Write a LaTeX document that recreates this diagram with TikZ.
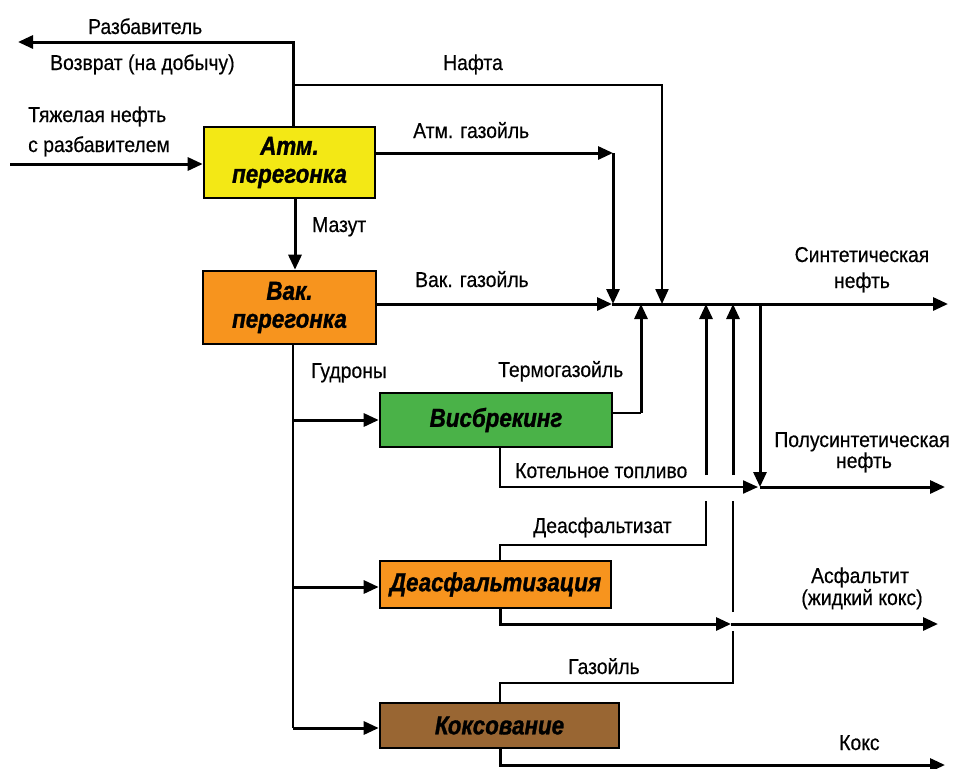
\documentclass[tikz,border=0pt]{standalone}
\usepackage{fontspec}
\setmainfont{Liberation Sans}[FakeStretch=0.9,FakeBold=0.4]
\newfontfamily\boxfont{Liberation Sans Bold Italic}[FakeStretch=0.86,FakeBold=1.2]
\usetikzlibrary{arrows.meta}
\definecolor{cyellow}{RGB}{243,232,21}
\definecolor{corange}{RGB}{247,148,30}
\definecolor{cgreen}{RGB}{74,178,72}
\definecolor{cbrown}{RGB}{153,102,51}
\begin{document}
\begin{tikzpicture}[x=1pt,y=-1pt,
  lbl/.style={inner sep=0pt,anchor=base west,font=\fontsize{21.5}{25}\selectfont},
  proc/.style={draw,line width=2.6pt,inner sep=0pt,align=center,
    font=\boxfont\fontsize{26}{28}\selectfont},
  flow/.style={line width=3pt,-{Triangle[length=15pt,width=13pt]}},
  thinflow/.style={line width=2.2pt,-{Triangle[length=15pt,width=13pt]}},
  thinl/.style={line width=2.2pt}]
\useasboundingbox (0,0) rectangle (954,769);
% process boxes
\node[proc,fill=cyellow,minimum width=171pt,minimum height=71pt] (atm) at (289.5,162.5) {Атм.\\перегонка};
\node[proc,fill=corange,minimum width=173pt,minimum height=73pt] (vak) at (289.5,307.5) {Вак.\\перегонка};
\node[proc,fill=cgreen,minimum width=232pt,minimum height=54pt] (vis) at (496,420) {Висбрекинг};
\node[proc,fill=corange,minimum width=231pt,minimum height=47pt] (dea) at (495.5,584.5) {Деасфальтизация};
\node[proc,fill=cbrown,minimum width=239pt,minimum height=45pt] (kok) at (499.5,725.5) {Коксование};
% coordinates
\coordinate (jR) at (293,42);
\coordinate (rzEnd) at (18,42);
\coordinate (jN) at (293,85);
\coordinate (jN2) at (662,85);
\coordinate (inS) at (10,164);
\coordinate (jA) at (613,153);
\coordinate (m1) at (612,304);
\coordinate (mEnd) at (948,304);
\coordinate (tg) at (641,413);
\coordinate (gV) at (293,728);
\coordinate (k1) at (500,487);
\coordinate (k2) at (758,487);
\coordinate (kEnd) at (945,487);
\coordinate (d1) at (500,545);
\coordinate (d2) at (706,545);
\coordinate (a1) at (500,624);
\coordinate (a2) at (731,624);
\coordinate (aEnd) at (938,624);
\coordinate (g1) at (500,683);
\coordinate (g2) at (733,683);
\coordinate (c1) at (500,765);
\coordinate (cEnd) at (945,765);
% top: diluent return and naphtha
\draw[flow] (jR |- atm.north) -- (jR) -- (rzEnd);
\draw[thinflow] (jN) -- (jN2) -- (jN2 |- m1);
% feed
\draw[flow] (inS) -- (atm.west |- inS);
% atm gasoil
\draw[flow] (atm.east |- jA) -- (jA);
\draw[flow] (jA) -- (jA |- m1);
% mazut
\draw[flow] (295,0 |- atm.south) -- (295,0 |- vak.north);
% vac gasoil and main line
\draw[flow] (vak.east |- m1) -- (m1);
\draw[flow] (m1) -- (mEnd);
% thermogasoil
\draw[thinl] (vis.east |- tg) -- (tg);
\draw[flow] (tg) -- (tg |- m1);
% tars
\draw[thinl] (293,0 |- vak.south) -- (gV);
\draw[flow] (293,420) -- (vis.west |- 0,420);
\draw[flow] (293,587) -- (dea.west |- 0,587);
\draw[flow] (gV) -- (kok.west |- gV);
% fuel oil and semi-synthetic
\draw[thinflow] (vis.south -| k1) -- (k1) -- (k2);
\draw[flow] (760,304) -- (760,487);
\draw[flow] (760,487) -- (kEnd);
% deasphalted oil
\draw[thinl] (dea.north -| d1) -- (d1) -- (d2) -- (706,501);
\draw[flow] (706,475) -- (706,304);
% asphaltite
\draw[flow] (dea.south -| a1) -- (a1) -- (a2);
\draw[flow] (a2) -- (aEnd);
% coker gasoil
\draw[thinl] (kok.north -| g1) -- (g1) -- (g2) -- (733,631);
\draw[thinl] (733,612) -- (733,501);
\draw[flow] (733,475) -- (733,304);
% coke
\draw[flow] (kok.south -| c1) -- (c1) -- (cEnd);
% labels
\node[lbl] (t1) at (88,34) {Разбавитель};
\node[lbl] (t2) at (50,70) {Возврат (на добычу)};
\node[lbl] (t3) at (443,70) {Нафта};
\node[lbl] (t4) at (28,122) {Тяжелая нефть};
\node[lbl] (t5) at (28,152) {с разбавителем};
\node[lbl] (t6) at (413,138) {Атм. газойль};
\node[lbl] (t7) at (312,232) {Мазут};
\node[lbl] (t8) at (415,287) {Вак. газойль};
\node[lbl,anchor=base] (t9) at (862,262) {Синтетическая};
\node[lbl,anchor=base] (t10) at (862,288) {нефть};
\node[lbl] (t11) at (311,378) {Гудроны};
\node[lbl] (t12) at (498,377) {Термогазойль};
\node[lbl,anchor=base] (t13) at (862,447) {Полусинтетическая};
\node[lbl,anchor=base] (t14) at (864,468) {нефть};
\node[lbl] (t15) at (515,478) {Котельное топливо};
\node[lbl] (t16) at (533,533) {Деасфальтизат};
\node[lbl,anchor=base] (t17) at (860,583) {Асфальтит};
\node[lbl,anchor=base] (t18) at (862,605) {(жидкий кокс)};
\node[lbl] (t19) at (568,674) {Газойль};
\node[lbl] (t20) at (839,750) {Кокс};
\end{tikzpicture}
\end{document}
